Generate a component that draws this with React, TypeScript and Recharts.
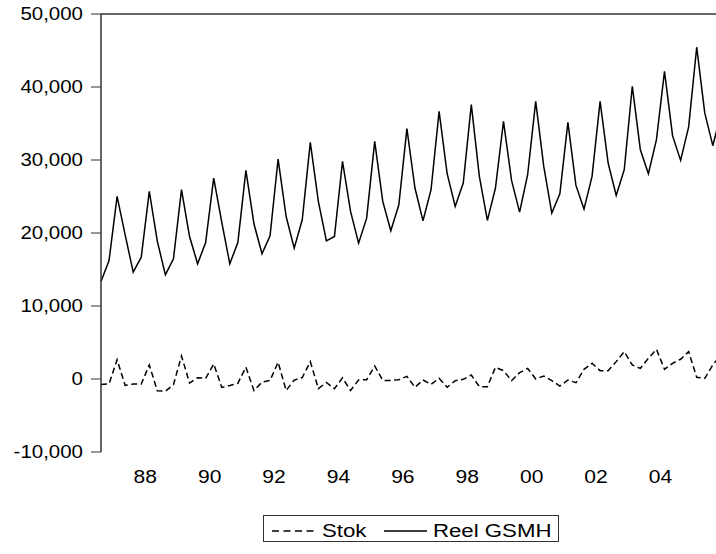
import { LineChart, Line, XAxis, YAxis, ReferenceLine, Legend } from 'recharts';

// quarterly observations, 1987Q1 .. 2006Q2
const reelGsmh = [
  13350, 16230, 25010, 19750,
  14640, 16690, 25700, 18840,
  14270, 16460, 25930, 19520,
  15780, 18700, 27530, 21500,
  15780, 18700, 28580, 21260,
  17150, 19620, 30130, 22260,
  17930, 21810, 32420, 24330,
  18930, 19520, 29810, 22950,
  18610, 22040, 32550, 24330,
  20300, 23870, 34290, 26160,
  21670, 25930, 36670, 28120,
  23640, 26840, 37590, 27750,
  21720, 26160, 35300, 27200,
  22860, 27980, 38040, 29120,
  22730, 25380, 35160, 26520,
  23280, 27750, 38040, 29590,
  25150, 28670, 40100, 31410,
  28120, 32780, 42150, 33330,
  29950, 34530, 45450, 36450,
  31960, 36300,
];

const stok = [
  -750, -650, 2650, -870,
  -690, -690, 1920, -1620,
  -1670, -780, 3150, -550,
  180, 90, 2060, -1150,
  -900, -590, 1620, -1580,
  -430, -200, 2300, -1580,
  -140, 200, 2380, -1320,
  -480, -1340, 160, -1580,
  -140, -100, 1780, -190,
  -190, -100, 360, -1140,
  -140, -730, 90, -1140,
  -230, -50, 550, -1050,
  -1050, 1600, 1140, -230,
  870, 1460, 0, 410,
  -230, -960, -140, -500,
  1330, 2150, 1140, 1140,
  2380, 3750, 1920, 1460,
  2840, 4070, 1330, 2150,
  2700, 3750, 230, 90,
  1920, 3300,
];

const quarters = reelGsmh.map((_, i) => `${1987 + Math.floor(i / 4)}Q${(i % 4) + 1}`);

const yTicks = [-10000, 0, 10000, 20000, 30000, 40000, 50000];
const yearStartTicks = [0, 4, 8, 12, 16, 20, 24, 28, 32, 36, 40, 44, 48, 52, 56, 60, 64, 68, 72, 76, 80];
const yearLabelTicks = [5.5, 13.5, 21.5, 29.5, 37.5, 45.5, 53.5, 61.5, 69.5];
const yearLabels = ['88', '90', '92', '94', '96', '98', '00', '02', '04'];

const series = [
  { key: 'stok', name: 'Stok', dash: '6 3.5' },
  { key: 'reel', name: 'Reel GSMH', dash: undefined },
];

const rows = quarters.map((q, i) => ({ i, q, stok: stok[i], reel: reelGsmh[i] }));

const FONT = '"Liberation Sans", Arial, Helvetica, sans-serif';
const STRETCH = 1.17;
const AXIS = '#333';

const stretchAt = (x: number) => `translate(${x} 0) scale(${STRETCH} 1) translate(${-x} 0)`;

const YTick = ({ x, y, payload }: any) => (
  <text x={x} y={y} dy="0.33em" textAnchor="end" fontSize={17.5} fontFamily={FONT} fill="#000" transform={stretchAt(x)}>
    {Number(payload.value).toLocaleString('en-US')}
  </text>
);

const XLabel = ({ x, y, payload }: any) => {
  const idx = yearLabelTicks.indexOf(payload.value);
  return (
    <text x={x} y={y} dy="0.71em" textAnchor="middle" fontSize={18} fontFamily={FONT} fill="#000" transform={stretchAt(x)}>
      {yearLabels[idx]}
    </text>
  );
};

const LegendBox = () => (
  <svg width={296} height={27} style={{ display: 'block' }}>
    <rect x={0.5} y={0.5} width={295} height={26} fill="#fff" stroke={AXIS} strokeWidth={1} />
    <line x1={9} x2={52} y1={16} y2={16} stroke="#000" strokeWidth={1.5} strokeDasharray="7 4.5" />
    <text x={59} y={22} fontSize={19} fontFamily={FONT} fill="#000" transform={stretchAt(59)}>{series[0].name}</text>
    <line x1={121} x2={164} y1={16} y2={16} stroke="#000" strokeWidth={1.5} />
    <text x={170} y={22} fontSize={19} fontFamily={FONT} fill="#000" transform={stretchAt(170)}>{series[1].name}</text>
  </svg>
);

export default function App() {
  return (
    <div style={{ position: 'absolute', left: 0, top: 0, width: 716, height: 554, overflow: 'hidden', background: '#fff' }}>
      <LineChart width={760} height={554} data={rows} margin={{ top: 14, right: 15, bottom: 72, left: 0 }}>
        <XAxis
          xAxisId="t"
          type="number"
          dataKey="i"
          domain={[0, 80]}
          ticks={yearStartTicks}
          tickFormatter={() => ''}
          tickSize={9}
          height={0}
          stroke={AXIS}
          axisLine={{ stroke: AXIS, strokeWidth: 1.5 }}
          tickLine={{ stroke: AXIS, strokeWidth: 1 }}
        />
        <XAxis
          xAxisId="l"
          type="number"
          dataKey="i"
          domain={[0, 80]}
          ticks={yearLabelTicks}
          tick={<XLabel />}
          tickSize={0}
          tickMargin={18}
          height={30}
          axisLine={false}
          tickLine={false}
        />
        <YAxis
          type="number"
          domain={[-10000, 50000]}
          ticks={yTicks}
          width={101}
          tickSize={10}
          tickMargin={8}
          tick={<YTick />}
          axisLine={{ stroke: AXIS, strokeWidth: 1.5 }}
          tickLine={{ stroke: AXIS, strokeWidth: 1 }}
        />
        <ReferenceLine xAxisId="t" y={50000} stroke={AXIS} strokeWidth={1.5} />
        {series.map((s) => (
          <Line
            key={s.key}
            xAxisId="t"
            type="linear"
            dataKey={s.key}
            name={s.name}
            stroke="#000"
            strokeWidth={1.5}
            strokeDasharray={s.dash}
            dot={false}
            activeDot={false}
            isAnimationActive={false}
          />
        ))}
        <Legend
          verticalAlign="middle"
          align="center"
          layout="horizontal"
          wrapperStyle={{ position: 'absolute', left: 263, top: 515, width: 296, height: 27 }}
          content={<LegendBox />}
        />
      </LineChart>
    </div>
  );
}
